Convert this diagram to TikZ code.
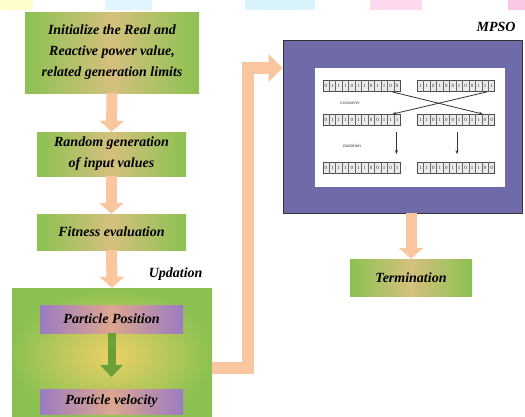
\documentclass[tikz,border=0pt]{standalone}
\usepackage{fontspec}
\setmainfont{Liberation Serif}
\usetikzlibrary{arrows.meta,calc}
\definecolor{boxgreen}{HTML}{8CC152}
\definecolor{boxorange}{HTML}{E6C088}
\definecolor{arrowor}{HTML}{F9C6A0}
\definecolor{mpsofill}{HTML}{6E6BA8}
\definecolor{purp}{HTML}{9A7CC2}
\definecolor{purpmid}{HTML}{DDA68E}
\definecolor{darkgreen}{HTML}{6A9F3A}
\tikzset{
  gbox/.style={rectangle, inner sep=0pt, left color=boxgreen, right color=boxgreen, middle color=boxorange!80!boxgreen,
    font=\bfseries\itshape\fontsize{14}{21}\selectfont, align=center, text=black},
  pbox/.style={rectangle, inner sep=0pt, left color=purp, right color=purp, middle color=purpmid,
    font=\bfseries\itshape\fontsize{14}{18}\selectfont, text=black},
  fatarrow/.style={draw=arrowor, line width=11pt, line join=miter, -{Triangle[width=24pt,length=11pt]}},
  bits/.style={rectangle, draw=black!70, line width=0.8pt, fill=black!8, minimum width=77pt, minimum height=11pt, inner sep=0pt},
  thinarr/.style={draw=black!80, line width=0.8pt, -{Stealth[length=4pt,width=3pt]}},
  lbl/.style={font=\bfseries\itshape\fontsize{14}{16}\selectfont},
  tiny/.style={font=\fontsize{5}{5}\selectfont, text=black!80}
}
\newcommand{\bitrow}[3]{%
  \node[bits] (#1) at (#2) {};
  \foreach \k in {1,...,11}{\draw[black!60, line width=0.4pt] ($(#1.south west)!\k/12!(#1.south east)$) -- ($(#1.north west)!\k/12!(#1.north east)$);}
  \foreach [count=\k] \d in {#3}{\node[tiny, inner sep=0pt] at ($(#1.west)!{(\k-0.5)/12}!(#1.east)$) {\d};}
}
\begin{document}
\begin{tikzpicture}[x=1pt,y=-1pt]
\useasboundingbox (0,0) rectangle (525,416);
% faint remnants at the top
\fill[yellow!20] (0,0) rectangle (33,10);
\fill[cyan!12] (105,0) rectangle (152,10);
\fill[cyan!15] (245,0) rectangle (315,10);
\fill[magenta!15] (370,0) rectangle (422,10);
\fill[magenta!22] (508,0) rectangle (525,10);

% left column boxes
\node[gbox, minimum width=174pt, minimum height=81pt] (init) at (112,52.5)
  {Initialize the Real and\\Reactive power value,\\related generation limits};
\node[gbox, minimum width=149pt, minimum height=44pt] (rand) at (111.5,154)
  {Random generation\\of input values};
\node[gbox, minimum width=149pt, minimum height=36pt] (fit) at (111.5,232)
  {Fitness evaluation};
\node[rectangle, inner sep=0pt, inner color=boxorange!75!yellow, outer color=boxgreen,
  minimum width=200pt, minimum height=134pt] (upd) at (112,355) {};
\node[lbl, anchor=south east] (updl) at (206,284) {Updation};
\node[pbox, minimum width=143pt, minimum height=28pt] (pp) at (111.5,319) {Particle Position};
\node[pbox, minimum width=143pt, minimum height=25pt] (pv) at (111.5,401.5) {Particle velocity};
\draw[draw=darkgreen, line width=8pt, -{Triangle[width=22pt,length=12pt]}] (pp.south) -- (pv.north |- 0,377);

% arrows between left boxes
\draw[fatarrow] (init.south) -- (rand.north);
\draw[fatarrow] (rand.south) -- (fit.north);
\draw[fatarrow] (fit.south) -- (upd.north);

% MPSO box
\node[rectangle, draw=black!80, line width=0.8pt, fill=mpsofill, minimum width=239pt, minimum height=173pt] (mpso) at (402.5,126.5) {};
\node[lbl, anchor=south east] (mpsol) at (519,35) {MPSO};
\node[rectangle, fill=white, minimum width=190pt, minimum height=119pt, inner sep=0pt] (inner) at (410,127.5) {};

\bitrow{b1l}{361.5,86}{0,1,1,1,0,1,1,0,1,1,0,0}
\bitrow{b1r}{456,86}{1,1,0,1,0,0,1,0,0,1,1,1}
\bitrow{b2l}{361.5,120}{0,1,1,1,0,1,1,0,0,1,1,1}
\bitrow{b2r}{456,120}{1,1,0,1,0,0,1,0,1,1,0,0}
\bitrow{b3l}{361.5,168}{0,1,1,1,0,1,1,0,0,1,0,1}
\bitrow{b3r}{456,168}{1,1,0,1,0,1,1,0,1,1,0,0}
\node[tiny] (cross) at (350,103) {crossover};
\node[tiny] (mut) at (352,146) {mutation};
\draw[thinarr] ($(b1l.south east)+(-8,0)$) -- ($(b2r.north east)+(-12,0)$);
\draw[thinarr] ($(b1r.south east)+(-8,0)$) -- ($(b2l.north east)+(-8,0)$);
\draw[thinarr] ($(b2l.south east)+(-4,6)$) -- ($(b3l.north east)+(-4,-8)$);
\draw[thinarr] ($(b2r.south)+(1,6)$) -- ($(b3r.north)+(1,-8)$);

% connector updation -> MPSO
\coordinate (c1) at (248,368);
\coordinate (c2) at (248,68);
\draw[draw=arrowor, line width=12pt, line join=miter, -{Triangle[width=27pt,length=14pt]}]
  (upd.east |- c1) -- (c1) -- (c2) -- (c2 -| mpso.west);

% termination
\node[gbox, minimum width=122pt, minimum height=37pt] (term) at (411,277.5) {Termination};
\draw[fatarrow] (mpso.south -| term.north) -- (term.north);
\end{tikzpicture}
\end{document}
